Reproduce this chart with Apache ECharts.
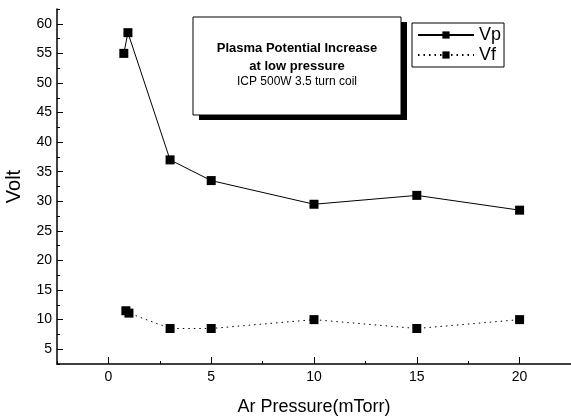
<!DOCTYPE html>
<html style="height: 100%">
<head>
<meta charset="utf-8">
<script src="https://cdn.jsdelivr.net/npm/echarts@6/dist/echarts.min.js"></script>
</head>
<body style="height: 100%; margin: 0; background: #fff">
<div id="container" style="height: 419px; width: 571px;"></div>
<script type="text/javascript">
// values
var vpX = [0.75, 0.95, 3, 5, 10, 15, 20];
var vpY = [55, 58.5, 37, 33.5, 29.5, 31, 28.5];
var vfX = [0.85, 1, 3, 5, 10, 15, 20];
var vfY = [11.5, 11.1, 8.5, 8.5, 10, 8.5, 10];
var xTicks = [0, 5, 10, 15, 20];
var xMinor = [-2.5, 2.5, 7.5, 12.5, 17.5, 22.5];
var yTicks = [5, 10, 15, 20, 25, 30, 35, 40, 45, 50, 55, 60];
var yMinor = [2.5, 7.5, 12.5, 17.5, 22.5, 27.5, 32.5, 37.5, 42.5, 47.5, 52.5, 57.5, 62.5];

function pairs(xs, ys) {
    return xs.map(function (x, i) { return [x, ys[i]]; });
}

var font = '"Liberation Sans", Arial, sans-serif';
var dom = document.getElementById("container");
var myChart = echarts.init(dom, null, { renderer: 'canvas' });

var axisFont = { color: '#000', fontSize: 14, fontFamily: font };

var option = {
    animation: false,
    backgroundColor: '#fff',
    grid: { left: 57, right: 0, top: 9, bottom: 55, outerBoundsMode: 'none' },
    legend: {
        orient: 'vertical',
        left: 412, top: 23,
        padding: [3, 3, 3, 5],
        itemGap: 2,
        itemWidth: 56, itemHeight: 9,
        borderColor: '#000', borderWidth: 1,
        textStyle: { color: '#000', fontSize: 18, fontFamily: font },
        data: ['Vp', 'Vf']
    },
    xAxis: [{
        type: 'value', min: -2.5, max: 22.5,
        name: 'Ar Pressure(mTorr)', nameLocation: 'middle', nameGap: 34,
        nameTextStyle: { color: '#000', fontSize: 18, fontFamily: font },
        axisLine: { onZero: false, lineStyle: { color: '#000', width: 1.5 } },
        axisTick: { inside: true, length: 7, customValues: xTicks, lineStyle: { color: '#000' } },
        axisLabel: Object.assign({ customValues: xTicks, margin: 6 }, axisFont),
        splitLine: { show: false }
    }, {
        type: 'value', min: -2.5, max: 22.5, position: 'bottom',
        axisLine: { show: false, onZero: false },
        axisTick: { inside: true, length: 3, customValues: xMinor, lineStyle: { color: '#000' } },
        axisLabel: { show: false },
        splitLine: { show: false }
    }],
    yAxis: [{
        type: 'value', min: 2.5, max: 62.5,
        name: 'Volt', nameLocation: 'middle', nameGap: 33,
        nameTextStyle: { color: '#000', fontSize: 20, fontFamily: font },
        axisLine: { show: true, onZero: false, lineStyle: { color: '#000', width: 1.5 } },
        axisTick: { show: true, inside: true, length: 6, customValues: yTicks, lineStyle: { color: '#000' } },
        axisLabel: Object.assign({ customValues: yTicks, margin: 5 }, axisFont),
        splitLine: { show: false }
    }, {
        type: 'value', min: 2.5, max: 62.5, position: 'left',
        axisLine: { show: false, onZero: false },
        axisTick: { show: true, inside: true, length: 3, customValues: yMinor, lineStyle: { color: '#000' } },
        axisLabel: { show: false },
        splitLine: { show: false }
    }],
    series: [{
        name: 'Vp', type: 'line',
        data: pairs(vpX, vpY),
        symbol: 'rect', symbolSize: 9,
        itemStyle: { color: '#000' },
        lineStyle: { color: '#000', width: 1 }
    }, {
        name: 'Vf', type: 'line',
        data: pairs(vfX, vfY),
        symbol: 'rect', symbolSize: 9,
        itemStyle: { color: '#000' },
        lineStyle: { color: '#000', width: 1, type: [1.5, 4] }
    }],
    graphic: [
        { type: 'rect', shape: { x: 199, y: 22, width: 208, height: 98 }, style: { fill: '#000' } },
        { type: 'rect', shape: { x: 193, y: 17, width: 208, height: 98 }, style: { fill: '#fff', stroke: '#000', lineWidth: 1 } },
        { type: 'text', x: 297, y: 48, style: { text: 'Plasma Potential Increase', align: 'center', verticalAlign: 'middle', fill: '#000', font: 'bold 13px ' + font } },
        { type: 'text', x: 297, y: 66, style: { text: 'at low pressure', align: 'center', verticalAlign: 'middle', fill: '#000', font: 'bold 13px ' + font } },
        { type: 'text', x: 297, y: 82, style: { text: 'ICP 500W 3.5 turn coil', align: 'center', verticalAlign: 'middle', fill: '#000', font: '12px ' + font } }
    ]
};

myChart.setOption(option, true);
</script>
</body>
</html>
